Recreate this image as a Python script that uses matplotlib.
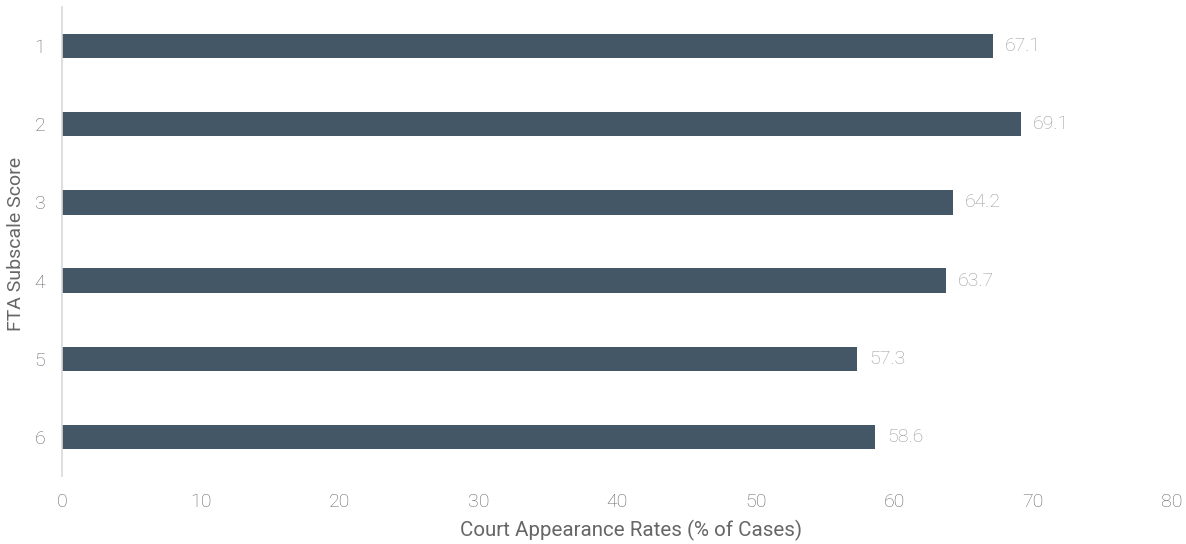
import matplotlib.pyplot as plt

# FTA subscale scores and the share of cases with a court appearance
scores = ["1", "2", "3", "4", "5", "6"]
rates = [67.1, 69.1, 64.2, 63.7, 57.3, 58.6]
x_ticks = [0, 10, 20, 30, 40, 50, 60, 70, 80]

plt.rcParams['font.family'] = ['Roboto', 'DejaVu Sans']
plt.rcParams['font.weight'] = 'light'

fig = plt.figure(figsize=(11.86, 5.44), dpi=100)
ax = fig.add_axes([0.0523, 0.125, 0.9359, 0.862])

pos = list(range(len(scores)))
ax.barh(pos, rates, height=0.31, color="#435766")
for p, r in zip(pos, rates):
    ax.text(r + 0.85, p, f"{r:.1f}", va="center", ha="left",
            fontsize=14, color="#9a9a9a", fontweight="light")

ax.set_ylim(len(scores) - 0.5, -0.5)
ax.set_xlim(0, 80)
ax.set_yticks(pos)
ax.set_yticklabels(scores)
ax.set_xticks(x_ticks)

for side in ["top", "right", "bottom"]:
    ax.spines[side].set_visible(False)
ax.spines["left"].set_color("#d9d9d9")
ax.spines["left"].set_linewidth(1.2)

ax.tick_params(axis="both", length=0, labelsize=14, labelcolor="#666666")
ax.tick_params(axis="y", pad=12)
ax.tick_params(axis="x", pad=12)

ax.set_xlabel("Court Appearance Rates (% of Cases)", fontsize=14.8,
              color="#666666", va="center")
ax.set_ylabel("FTA Subscale Score", fontsize=14, color="#666666", va="center")
# place the axis titles by axes fraction
ax.xaxis.set_label_coords(0.5126, -0.117)
ax.yaxis.set_label_coords(-0.0415, 0.495)

fig.savefig("out.png", dpi=100)
